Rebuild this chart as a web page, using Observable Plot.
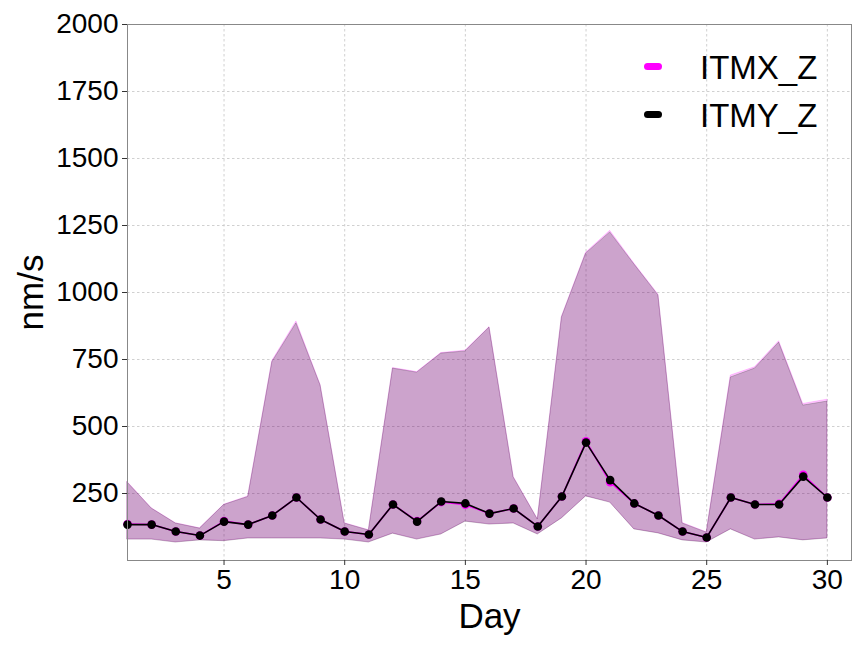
<!DOCTYPE html>
<html>
<head>
<meta charset="utf-8">
<script src="https://cdn.jsdelivr.net/npm/d3@7"></script>
<script src="https://cdn.jsdelivr.net/npm/@observablehq/plot@0.6"></script>
<style>
  body { margin: 0; background: white; }
  #wrap { position: relative; width: 864px; height: 648px; font-family: 'Liberation Sans', Arial, sans-serif; }
  .lg-dash { position: absolute; width: 18px; height: 7px; border-radius: 3.5px; }
  .lg-text { position: absolute; font-size: 33px; line-height: 33px; color: black; white-space: nowrap; }
</style>
</head>
<body>
<div id="wrap"></div>
<script>
// ---- data ----
const days = [1,2,3,4,5,6,7,8,9,10,11,12,13,14,15,16,17,18,19,20,21,22,23,24,25,26,27,28,29,30];

const itmyMedian = [134,134,108,93,145,134,168,235,153,108,97,209,145,220,213,175,194,127,239,440,300,213,168,108,86,235,209,209,313,235];
const itmyMax    = [291,194,138,119,207,237,740,885,653,138,112,716,701,772,780,869,310,153,907,1145,1224,1105,989,138,104,683,716,813,578,593];
const itmyMin    = [78,78,67,75,72,82,82,82,82,78,67,100,78,97,145,134,138,97,157,239,216,116,101,75,67,116,78,86,75,82];

const itmxMedian = [136,134,108,93,147,134,168,235,153,108,97,209,147,218,208,175,194,127,239,445,292,213,168,108,86,235,209,212,320,235];
const itmxMax    = [293,195,139,120,208,239,744,892,655,139,113,718,703,774,783,871,312,154,909,1148,1230,1108,992,140,105,690,721,818,584,600];
const itmxMin    = [79,79,68,76,73,83,83,83,83,79,68,101,79,98,146,135,139,98,158,240,217,117,102,76,68,117,79,87,76,83];

const xTicks = [5,10,15,20,25,30];
const yTicks = [250,500,750,1000,1250,1500,1750,2000];
const seriesNames = ["ITMX_Z", "ITMY_Z"];
const seriesColors = ["magenta", "black"];
const xLabel = "Day";
const yLabel = "nm/s";

const rowsX = days.map((d,i) => ({day:d, med:itmxMedian[i], lo:itmxMin[i], hi:itmxMax[i]}));
const rowsY = days.map((d,i) => ({day:d, med:itmyMedian[i], lo:itmyMin[i], hi:itmyMax[i]}));

const gridStyle = {stroke:"#c4c4c4", strokeOpacity:1, strokeWidth:0.8, strokeDasharray:"2.5,2.5"};

const chart = Plot.plot({
  width: 864, height: 648,
  marginLeft: 127, marginRight: 13, marginTop: 24, marginBottom: 88,
  x: {domain: [1, 31]},
  y: {domain: [0, 2000]},
  style: {fontFamily: "'Liberation Sans', Arial, sans-serif", fontSize: "28px", background: "white", color: "black"},
  marks: [
    Plot.gridX(xTicks, gridStyle),
    Plot.gridY(yTicks, gridStyle),
    Plot.areaY(rowsX, {x:"day", y1:"lo", y2:"hi", fill:seriesColors[0], fillOpacity:0.2, stroke:seriesColors[0], strokeOpacity:0.2, strokeWidth:1}),
    Plot.areaY(rowsY, {x:"day", y1:"lo", y2:"hi", fill:seriesColors[1], fillOpacity:0.2, stroke:seriesColors[1], strokeOpacity:0.2, strokeWidth:1}),
    Plot.line(rowsX, {x:"day", y:"med", stroke:seriesColors[0], strokeWidth:1.6}),
    Plot.dot(rowsX, {x:"day", y:"med", r:4.3, fill:seriesColors[0], stroke:"none"}),
    Plot.line(rowsY, {x:"day", y:"med", stroke:seriesColors[1], strokeWidth:1.6}),
    Plot.dot(rowsY, {x:"day", y:"med", r:4.3, fill:seriesColors[1], stroke:"none"}),
    Plot.frame({stroke:"#888", strokeWidth:1}),
    Plot.axisX(xTicks, {tickSize:5, tickPadding:4, fontSize:28, label:null, stroke:"#333", tickFormat: d3.format("d")}),
    Plot.axisY(yTicks, {tickSize:5, tickPadding:4, fontSize:28, label:null, stroke:"#333", tickFormat: d3.format("d")}),
    Plot.text([xLabel], {text: d => d, frameAnchor:"bottom", textAnchor:"middle", lineAnchor:"middle", dy:56, fontSize:35}),
    Plot.text([yLabel], {text: d => d, frameAnchor:"left", textAnchor:"middle", lineAnchor:"middle", rotate:-90, dx:-96, fontSize:35})
  ]
});

const wrap = document.getElementById("wrap");
wrap.appendChild(chart);
chart.style.position = "absolute";
chart.style.left = "0px";
chart.style.top = "0px";

// legend overlay (inside the frame, top right)
const legendTop = [63, 111];
seriesNames.forEach((name, i) => {
  const dash = document.createElement("div");
  dash.className = "lg-dash";
  dash.style.left = "644px";
  dash.style.top = legendTop[i] + "px";
  dash.style.background = seriesColors[i];
  wrap.appendChild(dash);
  const t = document.createElement("div");
  t.className = "lg-text";
  t.style.left = "700px";
  t.style.top = (legendTop[i] - 12) + "px";
  t.textContent = name;
  wrap.appendChild(t);
});
</script>
</body>
</html>
